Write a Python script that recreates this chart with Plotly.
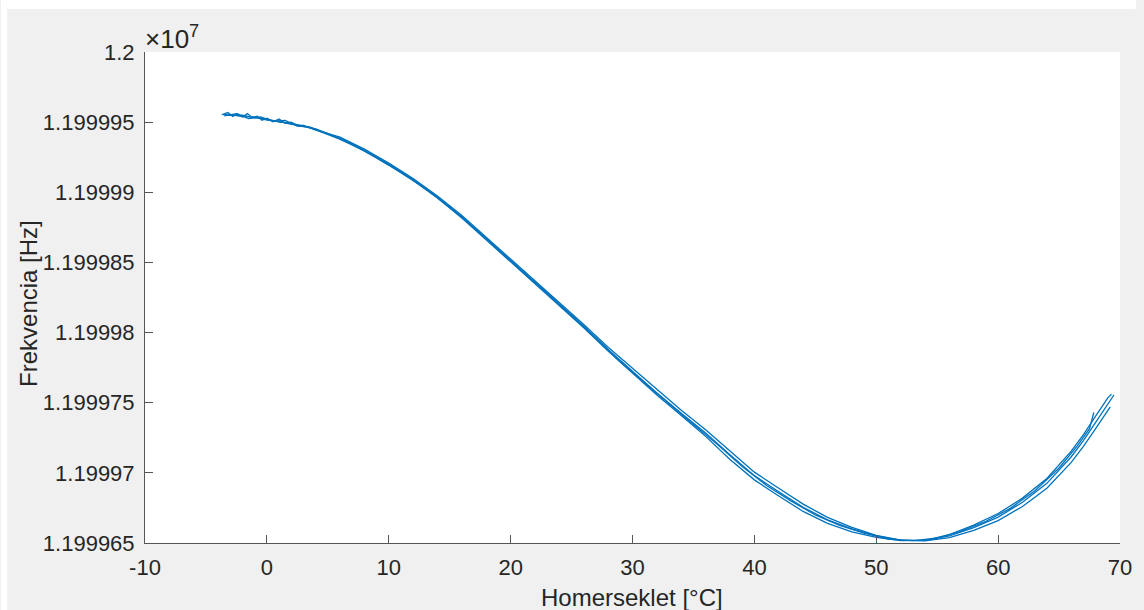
import plotly.graph_objects as go

# Temperature sweeps [°C] and measured oscillator frequency [Hz]
teplota_a = [-3.7, -3, -2, -1, 0, 1, 2, 3, 4, 6, 8, 10, 12, 14, 16, 18, 20, 22, 24, 26, 28, 30,
             32, 34, 36, 38, 40, 42, 44, 46, 48, 50, 52, 54, 56, 58, 60, 62, 64, 66, 67, 68, 69, 69.5]
frekv_a = [11999995.56, 11999995.48, 11999995.50, 11999995.30, 11999995.24, 11999995.00,
           11999994.94, 11999994.68, 11999994.52, 11999993.85, 11999993.00, 11999992.00,
           11999990.90, 11999989.65, 11999988.25, 11999986.70, 11999985.10, 11999983.60,
           11999982.05, 11999980.45, 11999978.80, 11999977.25, 11999975.70, 11999974.25,
           11999972.85, 11999971.30, 11999969.80, 11999968.65, 11999967.55, 11999966.65,
           11999966.00, 11999965.50, 11999965.20, 11999965.18, 11999965.50, 11999966.10,
           11999966.85, 11999967.90, 11999969.25, 11999971.15, 11999972.30, 11999973.60,
           11999974.90, 11999975.55]

teplota_b = [-3.6, -3.2, -2.8, -2.4, -2.0, -1.6, -1.2, -0.8, -0.4, 0, 0.5, 1, 1.5, 2, 2.5, 3, 4,
             6, 8, 10, 12, 14, 16, 18, 20, 22, 24, 26, 28, 30, 32, 34, 36, 38, 40, 42, 44, 46,
             48, 50, 52, 54, 56, 58, 60, 62, 64, 66, 67, 68, 69, 69.2]
frekv_b = [11999995.56, 11999995.68, 11999995.41, 11999995.60, 11999995.37, 11999995.61,
           11999995.32, 11999995.42, 11999995.14, 11999995.28, 11999995.03, 11999995.23,
           11999994.92, 11999995.00, 11999994.73, 11999994.77, 11999994.45,
           11999993.93, 11999993.08, 11999992.08, 11999990.98, 11999989.73, 11999988.35,
           11999986.80, 11999985.20, 11999983.70, 11999982.17, 11999980.57, 11999978.95,
           11999977.45, 11999975.90, 11999974.47, 11999973.07, 11999971.55, 11999970.05,
           11999968.90, 11999967.77, 11999966.83, 11999966.12, 11999965.55, 11999965.20,
           11999965.15, 11999965.38, 11999965.90, 11999966.60, 11999967.60, 11999968.90,
           11999970.75, 11999971.88, 11999973.15, 11999974.45, 11999974.70]

teplota_c = [-3.4, -3, -2, -1, 0, 1, 2, 3, 4, 6, 8, 10, 12, 14, 16, 18, 20, 22, 24, 26, 28, 30,
             32, 34, 36, 38, 40, 42, 44, 46, 48, 50, 52, 54, 56, 58, 60, 62, 64, 66, 67, 68, 69, 69.3]
frekv_c = [11999995.50, 11999995.54, 11999995.40, 11999995.38, 11999995.15, 11999995.07,
           11999994.85, 11999994.75, 11999994.45, 11999993.79, 11999992.94, 11999991.94,
           11999990.84, 11999989.59, 11999988.17, 11999986.62, 11999985.02, 11999983.52,
           11999981.95, 11999980.35, 11999978.68, 11999977.10, 11999975.55, 11999974.08,
           11999972.60, 11999970.95, 11999969.50, 11999968.35, 11999967.25, 11999966.40,
           11999965.80, 11999965.40, 11999965.17, 11999965.18, 11999965.60, 11999966.28,
           11999967.10, 11999968.20, 11999969.60, 11999971.55, 11999972.72, 11999974.05,
           11999975.35, 11999975.60]

teplota_d = [-3.5, -2.5, -1.5, -0.5, 0.5, 1.5, 2.5, 3.5, 5, 7, 9, 11, 13, 15, 17, 19, 21, 23,
             25, 27, 29, 31, 33, 35, 37, 39, 41, 43, 45, 47, 49, 51, 53, 55, 57, 59, 61, 63, 65,
             66.5, 67.5, 67.85]
frekv_d = [11999995.45, 11999995.60, 11999995.25, 11999995.38, 11999995.05, 11999995.13,
           11999994.71, 11999994.66, 11999994.17, 11999993.42, 11999992.47, 11999991.42,
           11999990.27, 11999988.92, 11999987.47, 11999985.87, 11999984.32, 11999982.82,
           11999981.22, 11999979.62, 11999977.90, 11999976.40, 11999974.90, 11999973.45,
           11999972.00, 11999970.45, 11999969.10, 11999968.00, 11999967.00, 11999966.25,
           11999965.70, 11999965.28, 11999965.17, 11999965.34, 11999965.84, 11999966.55,
           11999967.47, 11999968.70, 11999970.35, 11999971.92, 11999973.15, 11999974.30]

x_ticks = [-10, 0, 10, 20, 30, 40, 50, 60, 70]
x_ticktext = ["-10", "0", "10", "20", "30", "40", "50", "60", "70"]
y_ticks = [11999965, 11999970, 11999975, 11999980, 11999985, 11999990, 11999995, 12000000]
y_ticktext = ["1.199965", "1.19997", "1.199975", "1.19998", "1.199985", "1.19999",
              "1.199995", "1.2"]

LINE = "#0072BD"
TEXT = "#262626"
AXIS = "#555555"
FONT = "Liberation Sans, Arial, Helvetica, sans-serif"

fig = go.Figure()
for tx, fy in [(teplota_a, frekv_a), (teplota_b, frekv_b),
               (teplota_c, frekv_c), (teplota_d, frekv_d)]:
    fig.add_trace(go.Scatter(x=tx, y=fy, mode="lines",
                             line=dict(color=LINE, width=1.3),
                             showlegend=False, hoverinfo="skip"))

W, H = 1144, 610
L, R, T, B = 145, 16, 52, 67
pw, ph = W - L - R, H - T - B

fig.update_layout(
    width=W, height=H,
    margin=dict(l=L, r=R, t=T, b=B, pad=0),
    paper_bgcolor="#f0f0f0",
    plot_bgcolor="white",
    font=dict(family=FONT, size=22, color=TEXT),
    showlegend=False,
)

fig.update_xaxes(
    range=[-10, 70], tickvals=x_ticks, ticktext=x_ticktext, ticks="inside", ticklen=8,
    tickwidth=1, tickcolor=AXIS, showline=True, linecolor=AXIS, linewidth=1, mirror=False,
    showgrid=False, zeroline=False, tickfont=dict(size=22, color=TEXT), ticklabelstandoff=5,
)
fig.update_yaxes(
    range=[11999965, 12000000], tickvals=y_ticks, ticktext=y_ticktext,
    ticks="inside", ticklen=8, tickwidth=1, tickcolor=AXIS, showline=True,
    linecolor=AXIS, linewidth=1, mirror=False, showgrid=False, zeroline=False,
    tickfont=dict(size=22, color=TEXT), ticklabelstandoff=5,
)

# White frame strips around the grey figure area (top and left edges)
fig.add_shape(type="rect", xref="paper", yref="paper", layer="above", line_width=0,
              fillcolor="white", x0=-L / pw, x1=(6 - L) / pw, y0=-B / ph, y1=(H - B) / ph)
fig.add_shape(type="rect", xref="paper", yref="paper", layer="above", line_width=0,
              fillcolor="white", x0=-L / pw, x1=(W - L) / pw,
              y0=(H - B - 9) / ph, y1=(H - B) / ph)

# Axis titles and the common exponent of the frequency axis
fig.add_annotation(text="Homerseklet [°C]", xref="paper", yref="paper",
                   x=(636 - L) / pw, y=(H - B - 597) / ph, showarrow=False,
                   xanchor="center", yanchor="middle", font=dict(size=24, color=TEXT))
fig.add_annotation(text="Frekvencia [Hz]", xref="paper", yref="paper",
                   x=(27 - L) / pw, y=(H - B - 303) / ph, showarrow=False, textangle=-90,
                   xanchor="center", yanchor="middle", font=dict(size=24, color=TEXT))
fig.add_annotation(text="×10<sup>7</sup>", xref="paper", yref="paper",
                   x=0, y=1, xanchor="left", yanchor="bottom", xshift=-2, yshift=-4,
                   showarrow=False, font=dict(size=26, color=TEXT))

fig.write_html("out.html")
